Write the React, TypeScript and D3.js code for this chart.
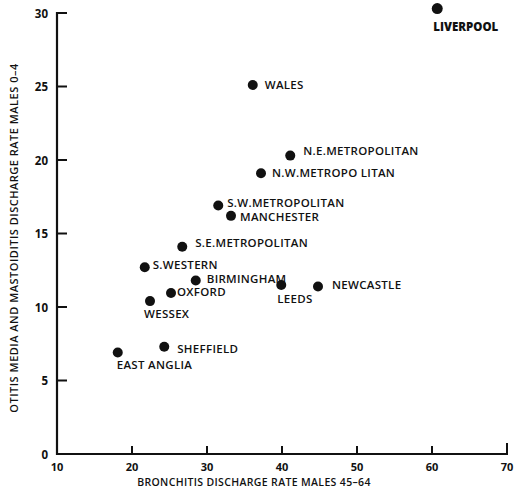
import React from "react";
import * as d3 from "d3";

const regions = [
  "LIVERPOOL", "WALES", "N.E.METROPOLITAN", "N.W.METROPO LITAN", "S.W.METROPOLITAN",
  "MANCHESTER", "S.E.METROPOLITAN", "S.WESTERN", "BIRMINGHAM", "OXFORD",
  "WESSEX", "LEEDS", "NEWCASTLE", "SHEFFIELD", "EAST ANGLIA",
];
const bronchitis = [60.7, 36.1, 41.1, 37.2, 31.5, 33.2, 26.7, 21.7, 28.5, 25.2, 22.4, 39.9, 44.8, 24.3, 18.1];
const otitis = [30.3, 25.1, 20.3, 19.1, 16.9, 16.2, 14.1, 12.7, 11.8, 10.95, 10.4, 11.5, 11.4, 7.3, 6.9];
const xTicks = [10, 20, 30, 40, 50, 60, 70];
const yTicks = [0, 5, 10, 15, 20, 25, 30];
const xTitle = "BRONCHITIS DISCHARGE RATE MALES 45–64";
const yTitle = "OTITIS MEDIA AND MASTOIDITIS DISCHARGE RATE MALES 0–4";

// label offsets (layout) relative to each dot: [dx, dy]
const labelOffsets: [number, number][] = [
  [-4, 22], [12, 4], [13, -1], [11, 4], [9, 1],
  [9, 5], [13, 0], [8, 2], [11, 2], [6, 3],
  [-6, 17], [-4, 18], [14, 3], [13, 6], [-1, 16],
];

const W = 518, H = 490;
const FONT = "'Open Sans', 'DejaVu Sans', sans-serif";

export default function App() {
  const x = d3.scaleLinear().domain([10, 70]).range([57, 507]);
  const y = d3.scaleLinear().domain([0, 30]).range([454, 13]);
  const ink = "#111";
  return (
    <svg width={W} height={H} style={{ position: "absolute", left: 0, top: 0, background: "#fff" }}
      fontFamily={FONT}>
      <rect width={W} height={H} fill="#fff" />
      {/* y axis */}
      <line x1={x(10)} x2={x(10)} y1={y(30) - 1} y2={y(0) + 1} stroke={ink} strokeWidth={2.2} />
      {yTicks.map((t) => (
        <g key={"y" + t}>
          {t > 0 && <line x1={x(10)} x2={x(10) + 10} y1={y(t)} y2={y(t)} stroke={ink} strokeWidth={2} />}
          <text x={48} y={y(t) + 4.5} textAnchor="end" fontSize={11.5} fontWeight={700} fill={ink}>{t}</text>
        </g>
      ))}
      {/* x axis */}
      <line x1={x(10) - 1} x2={x(70) + 1} y1={y(0)} y2={y(0)} stroke={ink} strokeWidth={2.2} />
      {xTicks.map((t) => (
        <g key={"x" + t}>
          {t > 10 && <line x1={x(t)} x2={x(t)} y1={y(0)} y2={y(0) - (t === 70 ? 11 : 8)} stroke={ink} strokeWidth={2} />}
          <text x={x(t)} y={471} textAnchor="middle" fontSize={11} fontWeight={700} fill={ink}>{t}</text>
        </g>
      ))}
      <text x={254} y={486} textAnchor="middle" fontSize={10.5} fontWeight={600} letterSpacing={0.35} fill={ink}>{xTitle}</text>
      <text transform={`translate(18, 238) rotate(-90)`} textAnchor="middle" fontSize={11} fontWeight={600} letterSpacing={0.5} fill={ink}>{yTitle}</text>
      {/* points */}
      {regions.map((r, i) => {
        const cx = x(bronchitis[i]);
        const cy = y(otitis[i]);
        const [dx, dy] = labelOffsets[i];
        return (
          <g key={r}>
            <circle cx={cx} cy={cy} r={i === 0 ? 5.5 : 5} fill={ink} />
            <text x={cx + dx} y={cy + dy} fontSize={11.5} letterSpacing={i === 0 ? 0 : 0.3} fontWeight={i === 0 ? 800 : 600} fill={ink}>{r}</text>
          </g>
        );
      })}
    </svg>
  );
}
